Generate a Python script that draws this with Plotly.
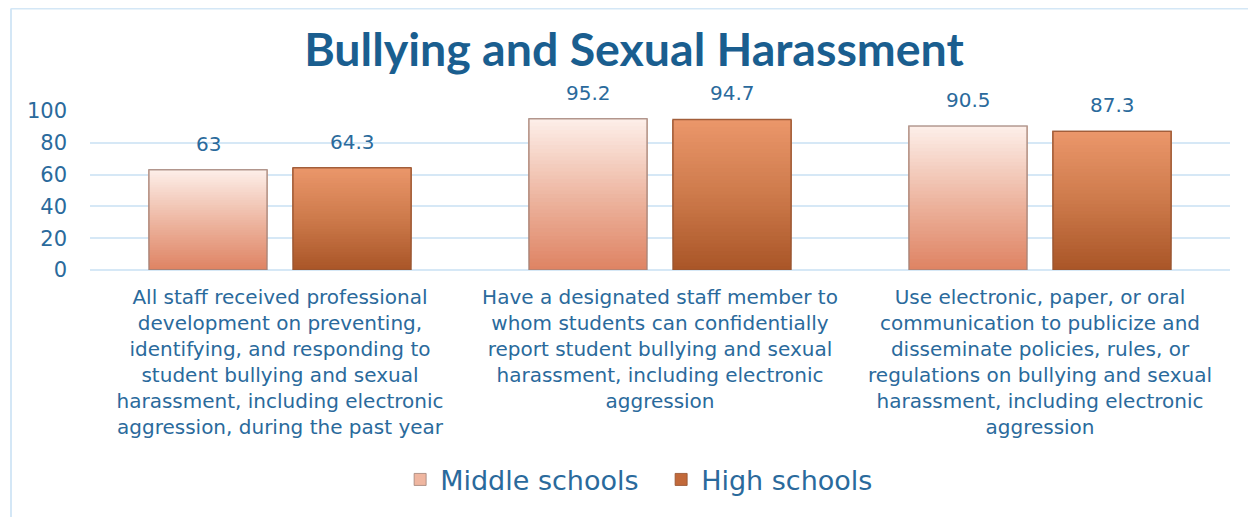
import plotly.graph_objects as go

categories = [
    "All staff received professional<br>development on preventing,<br>identifying, and responding to<br>student bullying and sexual<br>harassment, including electronic<br>aggression, during the past year",
    "Have a designated staff member to<br>whom students can confidentially<br>report student bullying and sexual<br>harassment, including electronic<br>aggression",
    "Use electronic, paper, or oral<br>communication to publicize and<br>disseminate policies, rules, or<br>regulations on bullying and sexual<br>harassment, including electronic<br>aggression",
]
series_names = ["Middle schools", "High schools"]
middle_values = [63, 95.2, 90.5]
high_values = [64.3, 94.7, 87.3]
value_labels_middle = ["63", "95.2", "90.5"]
value_labels_high = ["64.3", "94.7", "87.3"]

BLUE = "#2A6A9C"
TITLE_BLUE = "#1A5E8F"
FONT = "DejaVu Sans"

# gradient stops (bottom, mid, top)
grad = {
    "Middle schools": [(0.0, (223, 132, 100)), (0.45, (236, 178, 156)), (1.0, (253, 238, 232))],
    "High schools": [(0.0, (170, 86, 40)), (0.5, (205, 122, 75)), (1.0, (234, 150, 106))],
}
outline = {"Middle schools": "rgba(160,130,120,0.8)", "High schools": "rgba(150,85,50,0.85)"}
legend_col = {"Middle schools": "#EFB6A0", "High schools": "#C2693A"}


def color_at(stops, t):
    for (t0, c0), (t1, c1) in zip(stops[:-1], stops[1:]):
        if t0 <= t <= t1:
            f = (t - t0) / (t1 - t0)
            c = [round(a + (b - a) * f) for a, b in zip(c0, c1)]
            return "rgb(%d,%d,%d)" % tuple(c)
    return "rgb(%d,%d,%d)" % stops[-1][1]


fig = go.Figure()
N = 40
for name, vals in [("Middle schools", middle_values), ("High schools", high_values)]:
    for k in range(N):
        t = k / (N - 1)
        bases = [v * k / N for v in vals]
        fig.add_trace(go.Bar(
            x=categories, y=[v - b for v, b in zip(vals, bases)], base=bases,
            offsetgroup=name, marker=dict(color=color_at(grad[name], t), line=dict(width=0)),
            showlegend=False, hoverinfo="skip",
        ))
    fig.add_trace(go.Bar(
        x=categories, y=vals, offsetgroup=name, name=name,
        marker=dict(color="rgba(0,0,0,0)", line=dict(color=outline[name], width=1.5)),
        showlegend=False,
    ))
    fig.add_trace(go.Bar(
        x=[categories[0]], y=[0], offsetgroup=name, name=name,
        marker=dict(color=legend_col[name], line=dict(color=outline[name], width=1)),
        showlegend=True, hoverinfo="skip",
    ))

for labels, vals, shift in [(value_labels_middle, middle_values, -72), (value_labels_high, high_values, 72)]:
    for c, lab, v in zip(categories, labels, vals):
        fig.add_annotation(x=c, y=v, text=lab, showarrow=False, xshift=shift, yshift=12,
                           yanchor="bottom", font=dict(family=FONT, size=20, color=BLUE))

fig.add_shape(type="line", xref="paper", yref="paper", x0=-0.0693, x1=1.05, y0=1.644, y1=1.644,
              line=dict(color="#D4E7F6", width=2))
fig.add_shape(type="line", xref="paper", yref="paper", x0=-0.0693, x1=-0.0693, y0=1.644, y1=-1.7,
              line=dict(color="#D4E7F6", width=2))

fig.update_layout(
    width=1256, height=517,
    margin=dict(l=82, r=34, t=103, b=255),
    paper_bgcolor="white", plot_bgcolor="white",
    barmode="group", bargap=0.242, bargroupgap=0.18,
    title=dict(text="<b>Bullying and Sexual Harassment</b>", x=0.4984, xanchor="center",
               y=0.919, yanchor="middle", font=dict(family="Lato", size=46.5, color=TITLE_BLUE)),
    font=dict(family=FONT, color=BLUE),
    legend=dict(orientation="h", x=0.501, xanchor="center", y=-1.32, yanchor="middle",
                font=dict(family=FONT, size=27, color=BLUE), itemwidth=30,
                entrywidth=216, traceorder="normal"),
    showlegend=True,
)
fig.update_yaxes(range=[0, 100], dtick=20, showgrid=True, gridcolor="#D6E8F6", gridwidth=2,
                 zeroline=True, zerolinecolor="#D6E8F6", zerolinewidth=2, showline=False,
                 tickfont=dict(family=FONT, size=21, color=BLUE), ticklabelstandoff=22)
fig.update_xaxes(showline=False, showgrid=False, tickfont=dict(family=FONT, size=20, color=BLUE),
                 ticklabelstandoff=13, tickangle=0)

fig.write_html("out.html")
